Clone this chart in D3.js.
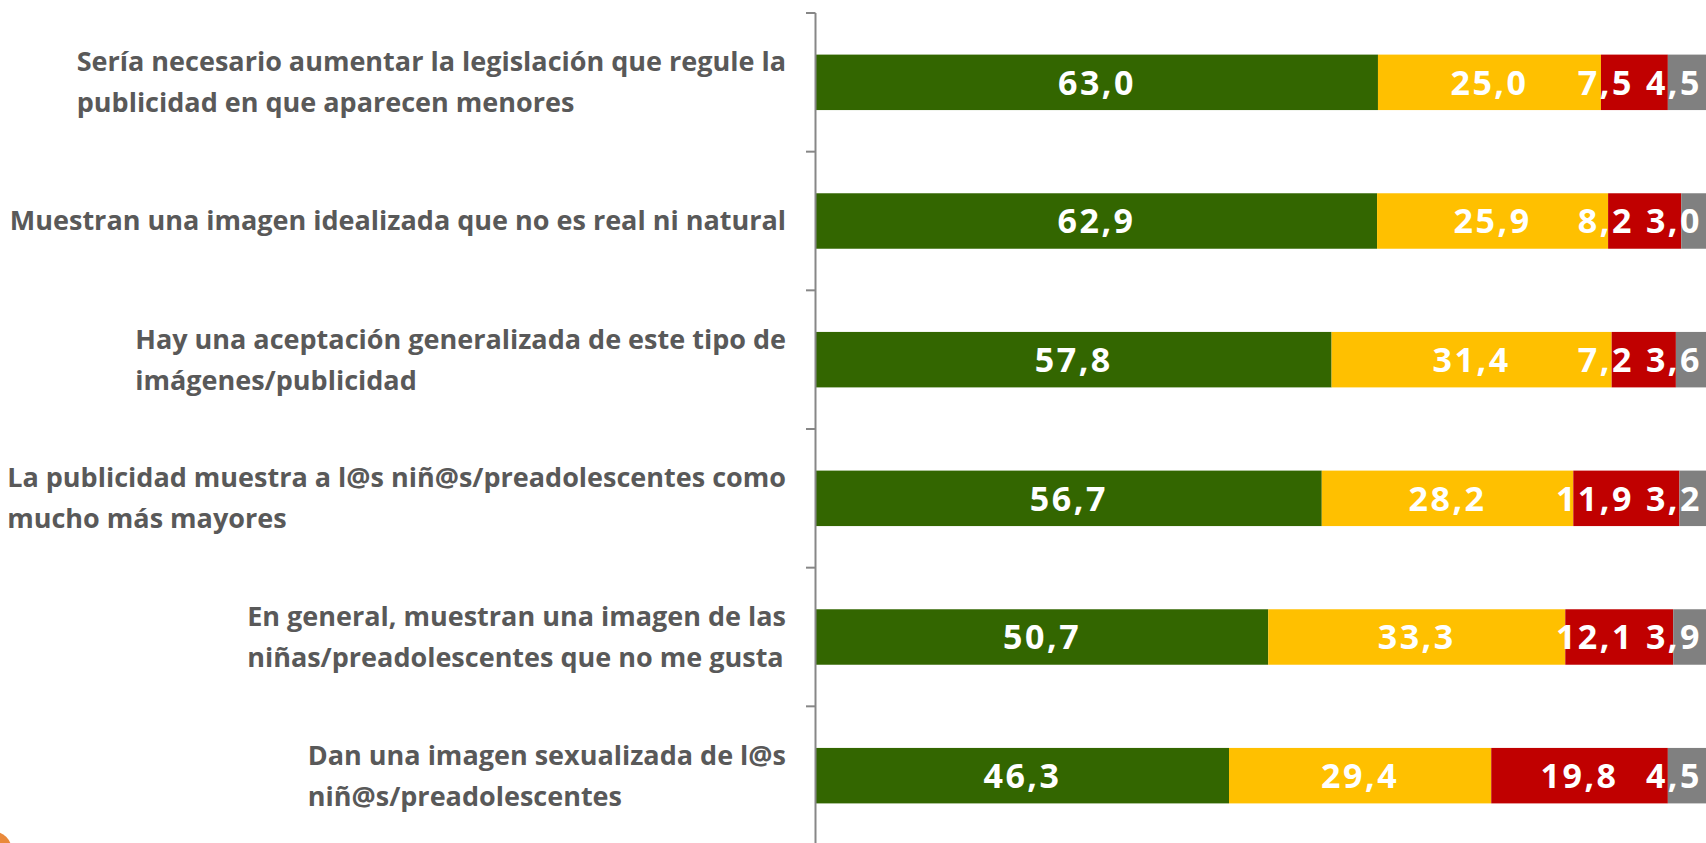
<!DOCTYPE html>
<html>
<head>
<meta charset="utf-8">
<script src="https://cdnjs.cloudflare.com/ajax/libs/d3/7.8.5/d3.min.js"></script>
<style>
  body { margin: 0; background: #fff; }
  .cat { font-family: "Open Sans", sans-serif; font-weight: 700; fill: #595959; font-size: 27px; }
  .val { font-family: "Open Sans", sans-serif; font-weight: 700; fill: #fff; font-size: 34px; letter-spacing: 2.5px; }
</style>
</head>
<body>
<div id="vis"></div>
<script>
const categories = [
  ["Sería necesario aumentar la legislación que regule la", "publicidad en que aparecen menores"],
  ["Muestran una imagen idealizada que no es real ni natural"],
  ["Hay una aceptación generalizada de este tipo de", "imágenes/publicidad"],
  ["La publicidad muestra a l@s niñ@s/preadolescentes como", "mucho más mayores"],
  ["En general, muestran una imagen de las", "niñas/preadolescentes que no me gusta"],
  ["Dan una imagen sexualizada de l@s", "niñ@s/preadolescentes"]
];
const seriesNames = ["Muy de acuerdo", "Bastante de acuerdo", "Poco de acuerdo", "Nada de acuerdo"];
const seriesColors = ["#336600", "#FFC000", "#C00000", "#808080"];
const greenVals  = [63.0, 62.9, 57.8, 56.7, 50.7, 46.3];
const yellowVals = [25.0, 25.9, 31.4, 28.2, 33.3, 29.4];
const redVals    = [7.5, 8.2, 7.2, 11.9, 12.1, 19.8];
const grayVals   = [4.5, 3.0, 3.6, 3.2, 3.9, 4.5];

const w = 1706, h = 843;
const axisX = 816;
const svg = d3.select("#vis").append("svg").attr("width", w).attr("height", h);

const keys = categories.map((d, i) => i);
const y = d3.scaleBand().domain(keys).range([13, 845]).paddingInner(0.6).paddingOuter(0.3);
const x = d3.scaleLinear().domain([0, 100]).range([axisX, 1708]);

const rows = keys.map(i => [greenVals[i], yellowVals[i], redVals[i], grayVals[i]]);
const segs = [];
rows.forEach((vals, i) => {
  let acc = 0;
  vals.forEach((v, s) => {
    segs.push({row: i, s: s, x0: acc, x1: acc + v, v: v});
    acc += v;
  });
});

// small orange decoration, bottom-left corner
svg.append("circle").attr("cx", -8).attr("cy", h + 8).attr("r", 20).attr("fill", "#E46C0A").attr("opacity", 0.8);

svg.append("g").selectAll("rect")
  .data(segs)
  .join("rect")
  .attr("x", d => x(d.x0))
  .attr("y", d => y(d.row))
  .attr("width", d => x(d.x1) - x(d.x0))
  .attr("height", y.bandwidth())
  .attr("fill", d => seriesColors[d.s]);

// axis line + ticks at band boundaries
const bounds = d3.range(keys.length + 1).map(k => y.range()[0] + k * y.step());
const ax = svg.append("g").attr("stroke", "#878787").attr("stroke-width", 2);
ax.append("line").attr("x1", axisX - 0.5).attr("x2", axisX - 0.5).attr("y1", bounds[0]).attr("y2", h);
ax.selectAll("line.tick").data(bounds).join("line").attr("class", "tick")
  .attr("x1", axisX - 10).attr("x2", axisX - 0.5)
  .attr("y1", d => d).attr("y2", d => d);

// category labels: left aligned block, right edge near the axis
const lineH = 41;
const labels = svg.append("g");
categories.forEach((lines, i) => {
  const cy = y(i) + y.bandwidth() / 2;
  const g = labels.append("g");
  const t = g.selectAll("text").data(lines).join("text")
    .attr("class", "cat")
    .attr("x", 0)
    .attr("y", (d, j) => cy + (j - (lines.length - 1) / 2) * lineH)
    .attr("dy", "0.35em")
    .text(d => d);
  const maxW = d3.max(t.nodes(), n => n.getComputedTextLength());
  g.attr("transform", `translate(${axisX - 30 - maxW},0)`);
});

// value labels: centred, then pushed left so they do not collide
const fmt = v => v.toFixed(1).replace(".", ",");
const vt = svg.append("g").selectAll("text")
  .data(segs)
  .join("text")
  .attr("class", "val")
  .attr("text-anchor", "middle")
  .attr("y", d => y(d.row) + y.bandwidth() / 2)
  .attr("dy", "0.36em")
  .text(d => fmt(d.v))
  .each(function(d) { d.tw = this.getComputedTextLength(); d.cx = x((d.x0 + d.x1) / 2); });

keys.forEach(i => {
  const rs = segs.filter(d => d.row === i);
  let limit = w - 4;
  for (let k = rs.length - 1; k >= 0; k--) {
    const d = rs[k];
    d.cx = Math.min(d.cx, limit - d.tw / 2);
    limit = d.cx - d.tw / 2 - 12;
  }
});
vt.attr("x", d => d.cx);
</script>
</body>
</html>
